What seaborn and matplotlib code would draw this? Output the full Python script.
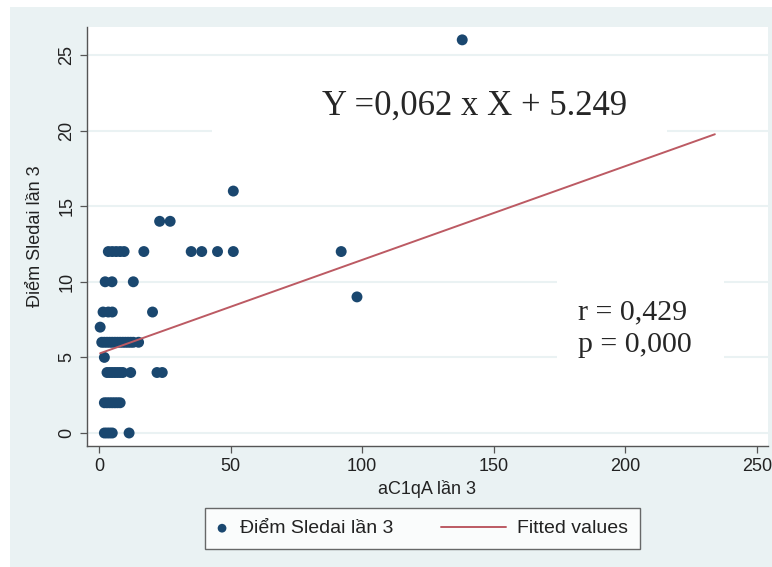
import pandas as pd
import numpy as np
import matplotlib
matplotlib.use('Agg')
import matplotlib.pyplot as plt
import seaborn as sns
from matplotlib.patches import Rectangle
from matplotlib.legend_handler import HandlerLine2D

# values
sledai = [26,
          16,
          14, 14,
          12, 12, 12, 12, 12, 12, 12, 12, 12, 12, 12,
          10, 10, 10,
          9,
          8, 8, 8, 8, 8,
          7,
          6, 6, 6, 6, 6, 6, 6, 6, 6, 6, 6, 6, 6, 6,
          5,
          4, 4, 4, 4, 4, 4, 4, 4, 4, 4,
          2, 2, 2, 2, 2, 2, 2,
          0, 0, 0, 0, 0]
ac1qa = [138,
         51,
         23, 27,
         3.5, 5, 6.5, 8, 9.5, 17, 35, 39, 45, 51, 92,
         2.3, 4.9, 13,
         98,
         1.5, 3.5, 5, 20.3, 234,
         0.4,
         1, 2, 3, 4, 5, 6, 7, 8, 9, 10, 11, 12, 13, 15,
         2,
         3, 4, 5, 6, 7, 8, 9, 12, 22, 24,
         2, 3, 4, 5, 6, 7, 8,
         2, 3, 4, 5, 11.4]

slope = 0.062
intercept = 5.249
eq_text = 'Y =0,062 x X + 5.249'
stat_text = 'r = 0,429\np = 0,000'

df = pd.DataFrame({'aC1qA lần 3': ac1qa, 'Điểm Sledai lần 3': sledai})

sns.set_style('white')
plt.rcParams['font.family'] = ['Liberation Sans', 'DejaVu Sans']

navy = '#1a476f'
red = '#bc5a63'
bg = '#eaf2f3'


# longer line in the legend than the marker handle
class LongLine(HandlerLine2D):
    def create_artists(self, legend, orig_handle, xdescent, ydescent, width, height, fontsize, trans):
        extra = 2.75 * fontsize
        return super().create_artists(legend, orig_handle, xdescent + extra, ydescent,
                                      width + extra, height, fontsize, trans)


fig = plt.figure(figsize=(7.72, 5.67), dpi=100)
fig.patch.set_facecolor('white')
fig.patches.append(Rectangle((10 / 772, 0), 1, 1 - 7 / 567, transform=fig.transFigure,
                             facecolor=bg, edgecolor='none', zorder=-10))

ax = fig.add_axes([87 / 772, 121 / 567, 681 / 772, 419 / 567])
ax.set_facecolor('white')

ax.set_yticks([0, 5, 10, 15, 20, 25])
ax.set_xticks([0, 50, 100, 150, 200, 250])
ax.grid(axis='y', color=bg, linewidth=1.5, zorder=0)
ax.set_axisbelow(True)

sns.scatterplot(data=df, x='aC1qA lần 3', y='Điểm Sledai lần 3', ax=ax, color=navy,
                s=62, edgecolor='none', label='Điểm Sledai lần 3', zorder=3)

xs = np.array([df['aC1qA lần 3'].min(), df['aC1qA lần 3'].max()])
fit_line, = ax.plot(xs, intercept + slope * xs, color=red, linewidth=1.4, label='Fitted values', zorder=4)

# white boxes behind the annotations
ax.add_patch(Rectangle((43, 19.4), 173, 4.6, facecolor='white', edgecolor='none', zorder=2))
ax.add_patch(Rectangle((174, 4.8), 63.5, 5.3, facecolor='white', edgecolor='none', zorder=5))

ax.text(142.5, 21.6, eq_text, family='Liberation Serif', fontsize=25, ha='center', va='center', zorder=6)
ax.text(182, 6.9, stat_text, family='Liberation Serif', fontsize=21.5, ha='left', va='center',
        linespacing=1.3, zorder=6)

ax.set_xlim(-4.6, 254.2)
ax.set_ylim(-0.86, 26.85)

for s in ['top', 'right']:
    ax.spines[s].set_visible(False)
for s in ['left', 'bottom']:
    ax.spines[s].set_color('#555555')
    ax.spines[s].set_linewidth(1.0)

ax.tick_params(axis='both', direction='out', length=5, width=0.9, color='#555555',
               labelsize=13, labelcolor='#222222', left=True, bottom=True)
for lab in ax.get_yticklabels():
    lab.set_rotation(90)
    lab.set_va('center')

ax.set_xlabel('aC1qA lần 3', fontsize=13, color='#222222', labelpad=4)
ax.set_ylabel('Điểm Sledai lần 3', fontsize=13, color='#222222', labelpad=10)

handles, labels = ax.get_legend_handles_labels()
ax.legend_.remove()
leg = fig.legend(handles, labels, loc='upper center', bbox_to_anchor=(0.547, 0.104), ncol=2,
                 fontsize=14, frameon=True, fancybox=False, edgecolor='#444444',
                 handlelength=0.6, handletextpad=0.6, columnspacing=5.2, borderpad=0.6,
                 borderaxespad=0, markerscale=0.8, handler_map={fit_line: LongLine()})
leg.get_frame().set_linewidth(1.0)
for t in leg.get_texts():
    t.set_color('#222222')

fig.savefig('out.png', dpi=100)
